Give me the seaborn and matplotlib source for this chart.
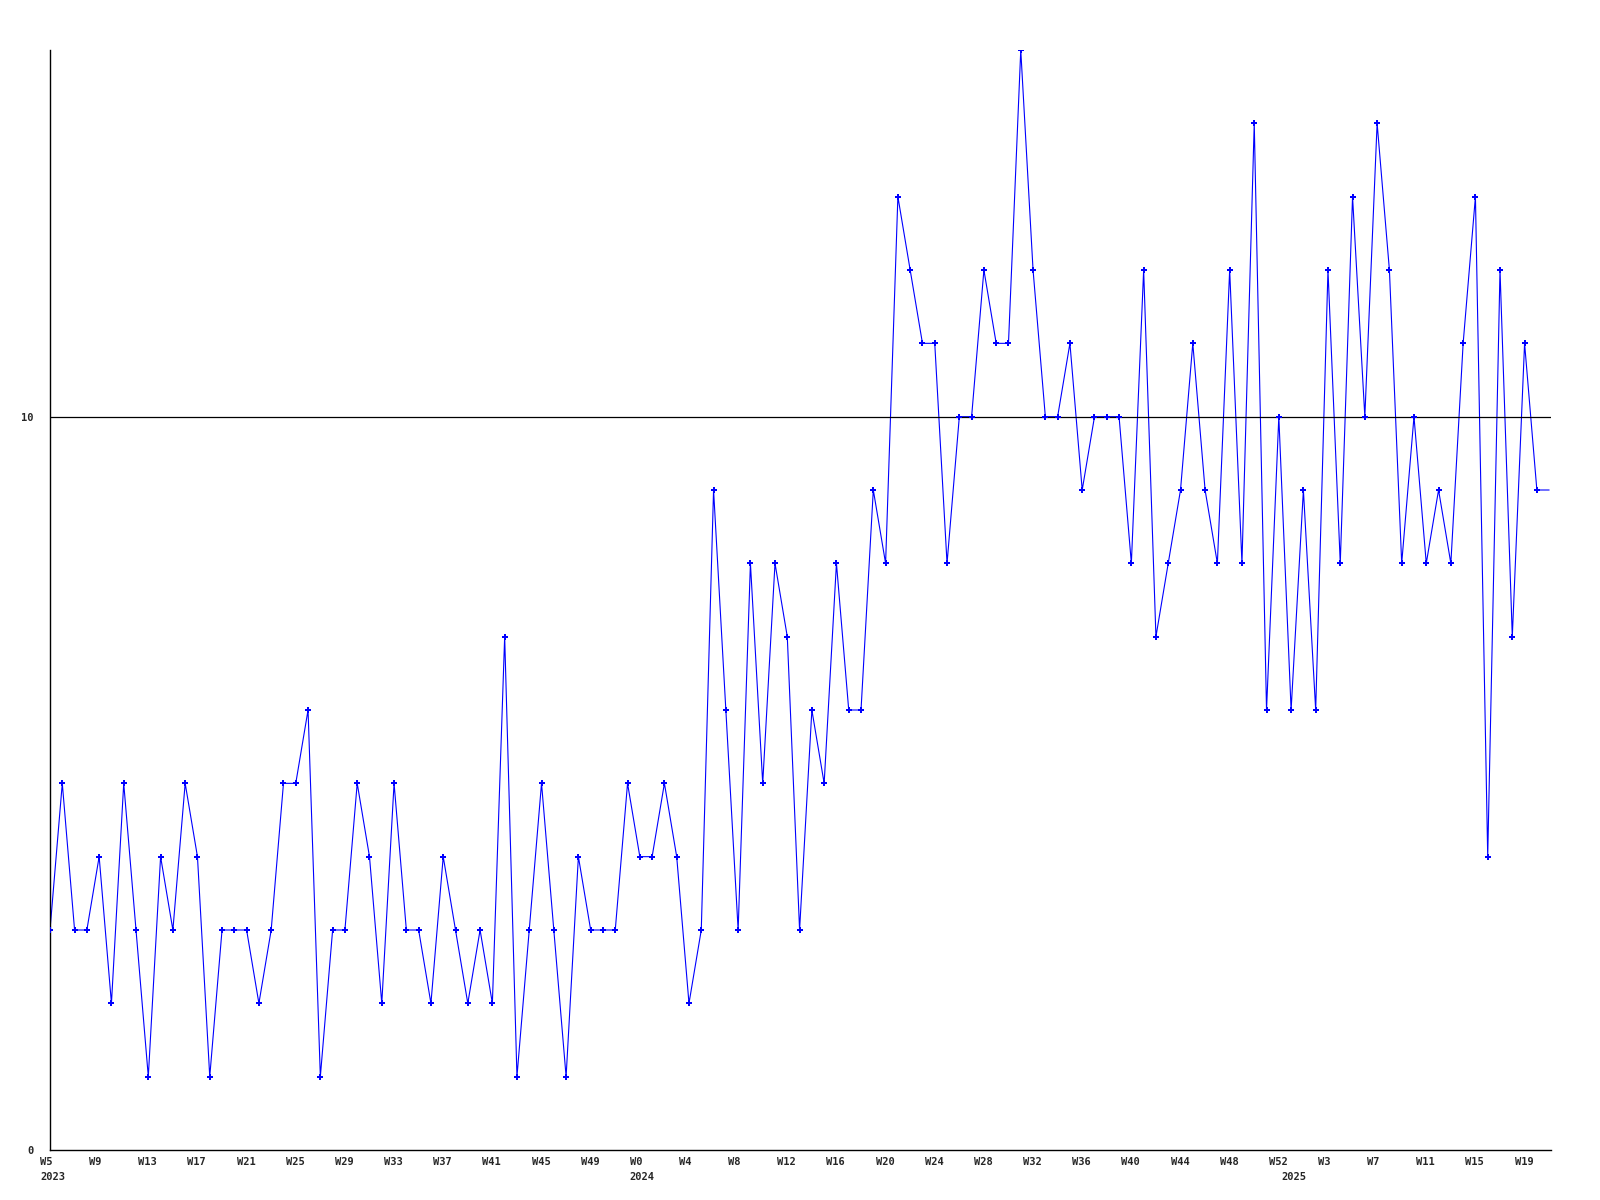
import numpy as np
import pandas as pd
import matplotlib
matplotlib.use("Agg")
import matplotlib.pyplot as plt
import seaborn as sns
from matplotlib.transforms import offset_copy

# weekly counts, 2023 W5 .. 2025 W20 (last value continues past the edge)
counts = [
    3, 5, 3, 3, 4, 2, 5, 3, 1, 4, 3, 5, 4, 1, 3, 3, 3, 2, 3, 5,
    5, 6, 1, 3, 3, 5, 4, 2, 5, 3, 3, 2, 4, 3, 2, 3, 2, 7, 1, 3,
    5, 3, 1, 4, 3, 3, 3, 5, 4, 4, 5, 4, 2, 3, 9, 6, 3, 8, 5, 8,
    7, 3, 6, 5, 8, 6, 6, 9, 8, 13, 12, 11, 11, 8, 10, 10, 12, 11, 11, 15,
    12, 10, 10, 11, 9, 10, 10, 10, 8, 12, 7, 8, 9, 11, 9, 8, 12, 8, 14, 6,
    10, 6, 9, 6, 12, 8, 13, 10, 14, 12, 8, 10, 8, 9, 8, 11, 13, 4, 12, 7,
    11, 9, 9,
]

# week numbering: 2023 starts at W5, 2024 and 2025 start at W0
year_starts = {2023: 5, 2024: 0, 2025: 0}
weeks_in_year = {2023: 48, 2024: 53, 2025: 22}

weeks, years = [], []
for yr, first in year_starts.items():
    for w in range(weeks_in_year[yr]):
        weeks.append(first + w)
        years.append(yr)
weeks = weeks[:len(counts)]
years = years[:len(counts)]

df = pd.DataFrame({"idx": np.arange(len(counts)), "count": counts,
                   "week": weeks, "year": years})

sns.set_style("white")
plt.rcParams["font.family"] = ["DejaVu Sans Mono"]

fig = plt.figure(figsize=(16, 12), dpi=100)
ax = fig.add_axes([50 / 1600, 50 / 1200, 1501 / 1600, 1100 / 1200])

sns.lineplot(data=df, x="idx", y="count", color="#0000ff", linewidth=0.8,
             ax=ax, zorder=2)
ax.axhline(10, color="black", linewidth=0.9, zorder=2.5)
sns.scatterplot(data=df.iloc[:-1], x="idx", y="count", color="#0000ff",
                marker="P", s=14, linewidth=0, ax=ax, zorder=3)

ax.set_xlim(0, 122.15)
ax.set_ylim(0, 15)

for s in ["top", "right"]:
    ax.spines[s].set_visible(False)
for s in ["left", "bottom"]:
    ax.spines[s].set_color("black")
    ax.spines[s].set_linewidth(1.0)

ax.set_yticks([0, 10])
ax.set_yticklabels(["0", "10"], fontsize=7.5, fontweight="bold")
ax.tick_params(axis="y", length=0, pad=12)
ax.set_xticks([])
ax.set_xlabel("")
ax.set_ylabel("")

# week labels every 4 weeks, left-aligned a bit before the tick
trans = ax.get_xaxis_transform()
lab_trans = offset_copy(trans, fig=fig, x=-10, y=-12, units="dots")
yr_trans = offset_copy(trans, fig=fig, x=-10, y=-27, units="dots")
for i in range(0, len(df) - 1, 4):
    ax.text(df["idx"][i], 0, f"W{df['week'][i]}", transform=lab_trans,
            ha="left", va="center", fontsize=7.5, fontweight="bold")
first_of_year = df.groupby("year")["idx"].min()
for yr, i in first_of_year.items():
    ax.text(i, 0, str(yr), transform=yr_trans, ha="left", va="center",
            fontsize=7.5, fontweight="bold")

fig.savefig("out.png", dpi=100)
